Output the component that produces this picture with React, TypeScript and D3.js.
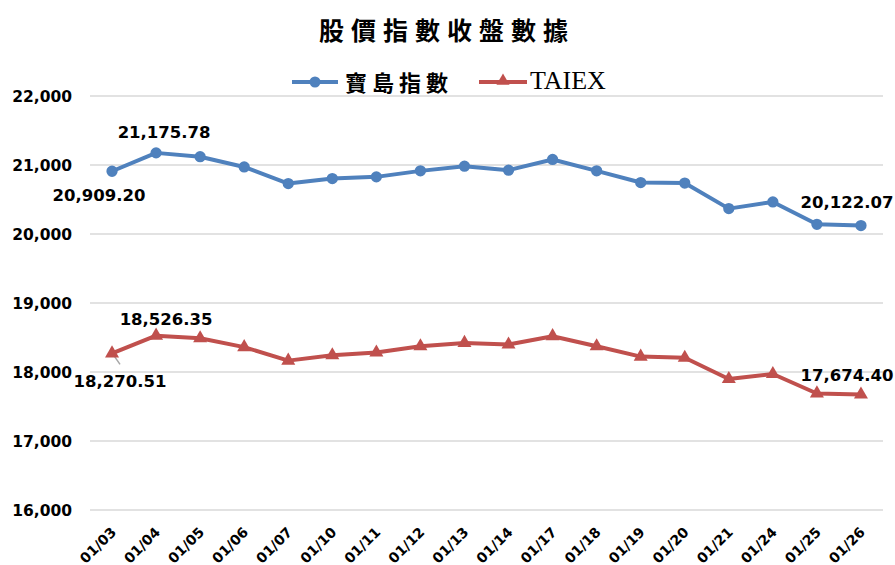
import { useRef, useEffect } from 'react';
import * as d3 from 'd3';

const dates = ['01/03', '01/04', '01/05', '01/06', '01/07', '01/10', '01/11', '01/12', '01/13', '01/14', '01/17', '01/18', '01/19', '01/20', '01/21', '01/24', '01/25', '01/26'];
const formosa = [20909.2, 21175.78, 21120, 20972, 20731, 20804, 20828, 20915, 20983, 20925, 21080, 20915, 20746, 20738, 20368, 20465, 20140, 20122.07];
const taiex = [18270.51, 18526.35, 18489, 18360, 18165, 18243, 18282, 18373, 18421, 18398, 18519, 18373, 18223, 18206, 17899, 17971, 17689, 17674.4];
const yTicks = [16000, 17000, 18000, 19000, 20000, 21000, 22000];
const seriesNames = ['寶島指數', 'TAIEX'];

const BLUE = '#4F81BD';
const RED = '#C0504D';
const NUM_FONT = '"DejaVu Sans", sans-serif';

export default function App() {
  const svgRef = useRef<SVGSVGElement>(null);

  useEffect(() => {
    if (!svgRef.current) return;
    const svg = d3.select(svgRef.current);
    svg.selectAll('*').remove();

    const left = 90;
    const right = 883;
    const x = d3.scaleBand().domain(dates).range([left, right]);
    const cx = (d: string) => (x(d) ?? 0) + x.bandwidth() / 2;
    const y = d3.scaleLinear().domain([16000, 22000]).range([510, 96]);

    // title
    svg.append('text')
      .attr('x', 447).attr('y', 40)
      .attr('text-anchor', 'middle')
      .attr('font-family', '"Noto Sans CJK TC", sans-serif')
      .attr('font-weight', 'bold')
      .attr('font-size', 25)
      .attr('letter-spacing', 7)
      .text('股價指數收盤數據');

    // legend
    const lg = svg.append('g');
    lg.append('line').attr('x1', 292).attr('x2', 338).attr('y1', 82).attr('y2', 82)
      .attr('stroke', BLUE).attr('stroke-width', 4);
    lg.append('circle').attr('cx', 315).attr('cy', 82).attr('r', 5.5).attr('fill', BLUE);
    lg.append('text').attr('x', 345).attr('y', 91)
      .attr('font-family', '"Noto Sans CJK TC", sans-serif').attr('font-weight', 'bold')
      .attr('font-size', 22).attr('letter-spacing', 5).text(seriesNames[0]);
    lg.append('line').attr('x1', 479).attr('x2', 527).attr('y1', 82).attr('y2', 82)
      .attr('stroke', RED).attr('stroke-width', 4);
    lg.append('path').attr('d', d3.symbol(d3.symbolTriangle, 75)()).attr('transform', 'translate(503,81)').attr('fill', RED);
    lg.append('text').attr('x', 530).attr('y', 89)
      .attr('font-family', '"Liberation Serif", serif')
      .attr('font-size', 26).text(seriesNames[1]);

    // grid + y axis
    svg.append('g').selectAll('line').data(yTicks).join('line')
      .attr('x1', left).attr('x2', right)
      .attr('y1', (d) => y(d)).attr('y2', (d) => y(d))
      .attr('stroke', '#D9D9D9').attr('stroke-width', 1.5);
    svg.append('g').selectAll('text').data(yTicks).join('text')
      .attr('x', 72).attr('y', (d) => y(d)).attr('dy', '0.36em')
      .attr('text-anchor', 'end')
      .attr('font-family', NUM_FONT).attr('font-weight', 'bold').attr('font-size', 15.5)
      .text((d) => d3.format(',')(d));

    // x labels
    svg.append('g').selectAll('text').data(dates).join('text')
      .attr('transform', (d) => `translate(${cx(d) + 5},533) rotate(-45)`)
      .attr('text-anchor', 'end')
      .attr('font-family', NUM_FONT).attr('font-weight', 'bold').attr('font-size', 14)
      .text((d) => d);

    const line = d3.line<number>().x((_, i) => cx(dates[i])).y((d) => y(d));

    // leader line for first TAIEX label
    svg.append('line')
      .attr('x1', cx(dates[0]) + 1).attr('y1', y(taiex[0]) + 1)
      .attr('x2', cx(dates[0]) + 8).attr('y2', y(taiex[0]) + 11)
      .attr('stroke', '#A6A6A6').attr('stroke-width', 1.5);

    const series = [
      { values: formosa, color: BLUE, symbol: d3.symbolCircle, size: 100 },
      { values: taiex, color: RED, symbol: d3.symbolTriangle, size: 85 },
    ];
    series.forEach((s) => {
      svg.append('path').datum(s.values)
        .attr('d', line)
        .attr('fill', 'none')
        .attr('stroke', s.color)
        .attr('stroke-width', 4)
        .attr('stroke-linejoin', 'round');
      svg.append('g').selectAll('path').data(s.values).join('path')
        .attr('d', d3.symbol(s.symbol, s.size)())
        .attr('transform', (d, i) => `translate(${cx(dates[i])},${y(d)})`)
        .attr('fill', s.color);
    });

    // data labels
    const labels = [
      { v: formosa, i: 0, dx: -13, dy: 30 },
      { v: formosa, i: 1, dx: 8, dy: -15 },
      { v: formosa, i: 17, dx: -14, dy: -18 },
      { v: taiex, i: 0, dx: 8, dy: 34 },
      { v: taiex, i: 1, dx: 10, dy: -11 },
      { v: taiex, i: 17, dx: -14, dy: -13 },
    ];
    svg.append('g').selectAll('text').data(labels).join('text')
      .attr('x', (d) => cx(dates[d.i]) + d.dx)
      .attr('y', (d) => y(d.v[d.i]) + d.dy)
      .attr('text-anchor', 'middle')
      .attr('font-family', NUM_FONT).attr('font-weight', 'bold').attr('font-size', 16.5)
      .text((d) => d3.format(',.2f')(d.v[d.i]));
  }, []);

  return <svg ref={svgRef} width={895} height={565} style={{ position: 'absolute', left: 0, top: 0, background: '#fff' }} />;
}
